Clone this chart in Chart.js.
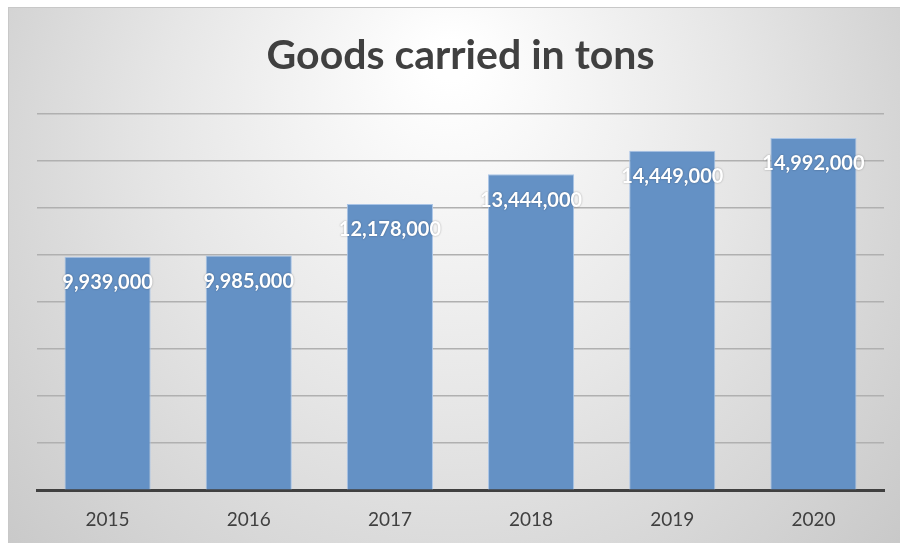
<!DOCTYPE html>
<html>
<head>
<meta charset="utf-8">
<script src="https://cdn.jsdelivr.net/npm/chart.js@4"></script>
<style>
  html, body { margin: 0; padding: 0; background: #ffffff; }
  #wrap { width: 900px; height: 543px; }
</style>
</head>
<body>
<div id="wrap"><canvas id="goodsChart"></canvas></div>
<script>
// DATOS
const years = ['2015', '2016', '2017', '2018', '2019', '2020'];
const tons = [9939000, 9985000, 12178000, 13444000, 14449000, 14992000];
const yMax = 16000000;
const yStep = 2000000;

// fondo con degradado
const fondo = {
    id: 'fondo',
    beforeDraw(chart) {
        const c = chart.ctx;
        const w = chart.width, h = chart.height;
        c.save();
        c.fillStyle = '#ffffff';
        c.fillRect(0, 0, w, h);
        const g = c.createRadialGradient(450, 60, 20, 450, 200, 620);
        g.addColorStop(0, '#ffffff');
        g.addColorStop(0.45, '#e6e6e6');
        g.addColorStop(1, '#c4c4c4');
        c.fillStyle = g;
        c.fillRect(8, 7, w - 8, h - 7);
        c.strokeStyle = '#c8c8c8';
        c.lineWidth = 1;
        c.strokeRect(8.5, 7.5, w - 8, h - 7);
        c.restore();
    }
};

// etiquetas dentro de la barra
const etiquetas = {
    id: 'etiquetas',
    afterDatasetsDraw(chart) {
        const c = chart.ctx;
        const meta = chart.getDatasetMeta(0);
        c.save();
        c.font = 'bold 20px Lato';
        c.fillStyle = '#ffffff';
        c.textAlign = 'center';
        c.textBaseline = 'middle';
        c.shadowColor = 'rgba(0,0,0,0.35)';
        c.shadowBlur = 2;
        meta.data.forEach((bar, i) => {
            c.fillText(tons[i].toLocaleString('en-US'), bar.x, bar.y + 26);
        });
        c.restore();
    }
};

document.addEventListener('DOMContentLoaded', function() {
    const ctx = document.getElementById('goodsChart').getContext('2d');

    new Chart(ctx, {
        type: 'bar',
        data: {
            labels: years,
            datasets: [{
                label: 'Goods carried in tons',
                data: tons,
                backgroundColor: '#6491c5',
                borderColor: '#a9c4e6',
                borderWidth: 1,
                categoryPercentage: 0.61,
                barPercentage: 1.0
            }]
        },
        options: {
            responsive: true,
            maintainAspectRatio: false,
            animation: false,
            layout: {
                padding: { left: 37, right: 16, top: 0, bottom: -6 }
            },
            plugins: {
                legend: { display: false },
                tooltip: { enabled: false },
                title: {
                    display: true,
                    text: 'Goods carried in tons',
                    color: '#404040',
                    font: { family: 'Lato', size: 41, weight: 'bold' },
                    padding: { top: 31, bottom: 34 }
                }
            },
            scales: {
                x: {
                    grid: { display: false, drawTicks: false },
                    border: { display: true, color: '#404040', width: 3 },
                    ticks: {
                        color: '#404040',
                        font: { family: 'Lato', size: 19 },
                        padding: 18
                    }
                },
                y: {
                    min: 0,
                    max: yMax,
                    ticks: { stepSize: yStep, display: false },
                    grid: { color: '#b0b0b0', lineWidth: 1.5, drawTicks: false },
                    border: { display: false }
                }
            }
        },
        plugins: [fondo, etiquetas]
    });
});
</script>
</body>
</html>
